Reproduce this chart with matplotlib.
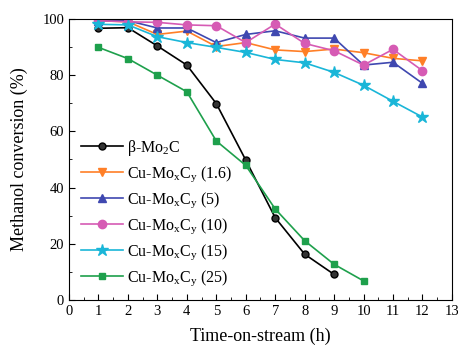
import matplotlib
matplotlib.use("Agg")
import matplotlib.pyplot as plt
from matplotlib.ticker import MultipleLocator

plt.rcParams["font.family"] = "Liberation Serif"
plt.rcParams["mathtext.fontset"] = "custom"
plt.rcParams["mathtext.rm"] = "Liberation Serif"
plt.rcParams["mathtext.it"] = "Liberation Serif:italic"

# time-on-stream (h)
t_mo2c = [1, 2, 3, 4, 5, 6, 7, 8, 9]
t_long = [1, 2, 3, 4, 5, 6, 7, 8, 9, 10, 11, 12]
t_25 = [1, 2, 3, 4, 5, 6, 7, 8, 9, 10]

# methanol conversion (%)
conv_mo2c = [96.7, 96.9, 90.4, 83.6, 69.9, 49.8, 29.3, 16.3, 9.1]
conv_1p6 = [99.4, 99.0, 94.5, 95.7, 90.2, 91.6, 89.0, 88.4, 89.3, 88.0, 86.0, 85.1]
conv_5 = [99.4, 99.4, 96.8, 96.8, 91.6, 94.5, 95.8, 93.2, 93.2, 83.6, 84.6, 77.1]
conv_10 = [99.4, 99.0, 98.8, 97.9, 97.6, 91.6, 98.2, 91.3, 88.7, 83.6, 89.2, 81.6]
conv_15 = [98.1, 97.9, 93.7, 91.6, 89.9, 88.1, 85.6, 84.4, 81.0, 76.4, 70.7, 65.1]
conv_25 = [89.9, 85.9, 80.0, 74.1, 56.6, 47.9, 32.4, 21.1, 12.7, 6.8]

labels = [
    "β-Mo$_\\mathrm{2}$C",
    "Cu-Mo$_\\mathrm{x}$C$_\\mathrm{y}$ (1.6)",
    "Cu-Mo$_\\mathrm{x}$C$_\\mathrm{y}$ (5)",
    "Cu-Mo$_\\mathrm{x}$C$_\\mathrm{y}$ (10)",
    "Cu-Mo$_\\mathrm{x}$C$_\\mathrm{y}$ (15)",
    "Cu-Mo$_\\mathrm{x}$C$_\\mathrm{y}$ (25)",
]

fig = plt.figure(figsize=(4.58, 3.51), dpi=100)
ax = fig.add_axes([0.1507, 0.1453, 0.836, 0.8006])

ax.plot(t_mo2c, conv_mo2c, color="black", marker="o", ms=5,
        mfc="#333333", mec="black", lw=1.2, label=labels[0])
ax.plot(t_long, conv_1p6, color="#ff7f27", marker="v", ms=6, lw=1.2, label=labels[1])
ax.plot(t_long, conv_5, color="#3f48b0", marker="^", ms=6, lw=1.2, label=labels[2])
ax.plot(t_long, conv_10, color="#d65bb4", marker="o", ms=6, lw=1.2, label=labels[3])
ax.plot(t_long, conv_15, color="#1ab6d8", marker="*", ms=9, lw=1.2, label=labels[4])
ax.plot(t_25, conv_25, color="#1ea04c", marker="s", ms=5, lw=1.2, label=labels[5])

ax.set_xlim(0, 13)
ax.set_ylim(0, 100)
ax.xaxis.set_major_locator(MultipleLocator(1))
ax.xaxis.set_minor_locator(MultipleLocator(0.5))
ax.yaxis.set_major_locator(MultipleLocator(20))
ax.yaxis.set_minor_locator(MultipleLocator(10))
ax.tick_params(which="both", direction="in", top=False, right=False, labelsize=10.5)
ax.tick_params(which="major", length=4)
ax.tick_params(which="minor", length=2.5)

ax.set_xlabel("Time-on-stream (h)", fontsize=13, labelpad=7)
ax.set_ylabel("Methanol conversion (%)", fontsize=13, labelpad=10)

ax.legend(loc="lower left", bbox_to_anchor=(0.0, 0.0), frameon=False,
          fontsize=11.5, handlelength=2.6, handletextpad=0.3, labelspacing=0.4,
          borderaxespad=0.35)

plt.savefig("out.png", dpi=100)
